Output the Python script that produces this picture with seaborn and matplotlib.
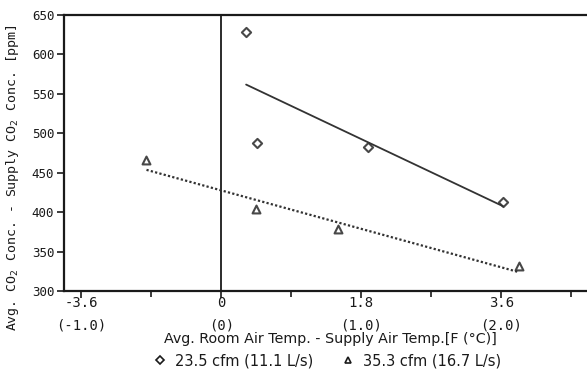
import matplotlib
matplotlib.use("Agg")
import matplotlib.pyplot as plt
import seaborn as sns
import pandas as pd
from matplotlib.lines import Line2D

# Data (x: Avg. room air temp - supply air temp [F]; y: CO2 difference [ppm])
dT_235 = [0.32, 0.46, 1.89, 3.62]
co2_235 = [629, 488, 483, 413]
dT_353 = [-0.96, 0.45, 1.50, 3.82]
co2_353 = [466, 404, 378, 332]

series_labels = ["23.5 cfm (11.1 L/s)", "35.3 cfm (16.7 L/s)"]
xticks = [-1.8, 0.0, 1.8, 3.6]
xticklabels = ["-3.6\n(-1.0)", "0\n(0)", "1.8\n(1.0)", "3.6\n(2.0)"]
xminor = [-0.9, 0.9, 2.7, 4.5]
yticks = [300, 350, 400, 450, 500, 550, 600, 650]

df1 = pd.DataFrame({"x": dT_235, "y": co2_235})
df2 = pd.DataFrame({"x": dT_353, "y": co2_353})

sns.set_theme(style="white")
plt.rcParams["font.family"] = ["DejaVu Sans Mono"]

fig = plt.figure(figsize=(5.87, 3.78), dpi=100)
ax = fig.add_axes([64/587, 87/378, 523/587, 276/378])

ink = "#1a1a1a"
sns.regplot(data=df1, x="x", y="y", ax=ax, ci=None, marker="D",
            scatter_kws=dict(s=22, facecolors="white", edgecolors=ink, linewidths=1.5),
            line_kws=dict(color="#333333", lw=1.3, ls="-"))
sns.regplot(data=df2, x="x", y="y", ax=ax, ci=None, marker="^",
            scatter_kws=dict(s=32, facecolors="white", edgecolors=ink, linewidths=1.5),
            line_kws=dict(color="#333333", lw=1.6, ls=(0, (1, 1))))

ax.axvline(0, color=ink, lw=1.3, zorder=1)

ax.set_xlim(-2.02, 4.70)
ax.set_ylim(300, 650)
ax.set_xticks(xticks)
ax.set_xticklabels(xticklabels, fontsize=10, linespacing=1.8)
ax.set_xticks(xminor, minor=True)
ax.set_yticks(yticks)
ax.set_yticklabels([str(v) for v in yticks], fontsize=9)
ax.tick_params(axis="both", which="both", direction="out", color=ink,
               left=True, bottom=True, labelcolor=ink)
ax.tick_params(axis="x", which="major", length=5, width=1.2, pad=-1.5)
ax.tick_params(axis="x", which="minor", length=4, width=1.2)
ax.tick_params(axis="y", which="major", length=5, width=1.2, pad=2)

for side in ["left", "top", "bottom"]:
    ax.spines[side].set_visible(True)
    ax.spines[side].set_color(ink)
    ax.spines[side].set_linewidth(1.6)
ax.spines["right"].set_visible(False)

ax.set_xlabel("Avg. Room Air Temp. - Supply Air Temp.[F (\u00b0C)]",
              fontsize=10.3, family="DejaVu Sans", color=ink)
ax.xaxis.set_label_coords(0.51, -0.148)
ax.set_ylabel("Avg. CO$_2$ Conc. - Supply CO$_2$ Conc. [ppm]", fontsize=9.5, color=ink)
ax.yaxis.set_label_coords(-0.082, 0.41)

handles = [
    Line2D([], [], marker="D", ls="none", markersize=4, markerfacecolor="white",
           markeredgecolor=ink, markeredgewidth=1.2),
    Line2D([], [], marker="^", ls="none", markersize=5, markerfacecolor="white",
           markeredgecolor=ink, markeredgewidth=1.2),
]
fig.legend(handles, series_labels, loc="center", bbox_to_anchor=(0.558, 0.046),
           ncol=2, frameon=False, prop=dict(family="DejaVu Sans", size=10.5),
           handlelength=0.8, handletextpad=0.6, columnspacing=2.0, labelcolor=ink)

fig.savefig("out.png", dpi=100)
